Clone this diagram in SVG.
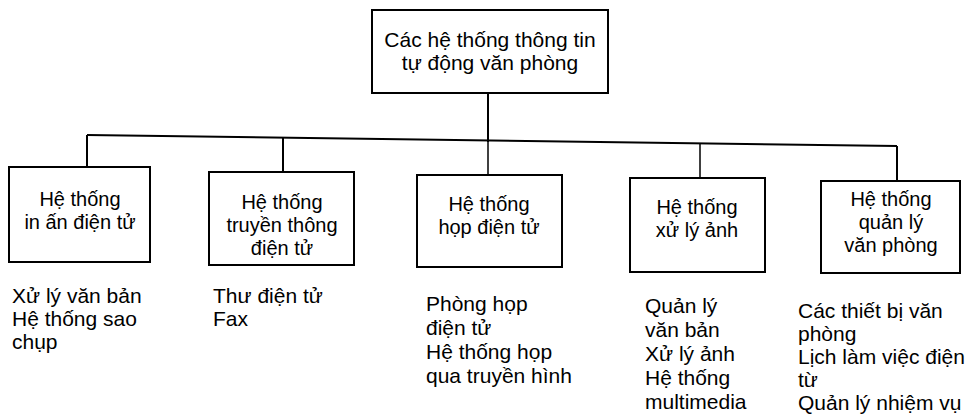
<svg xmlns="http://www.w3.org/2000/svg" width="979" height="419" viewBox="0 0 979 419">
<style>
.box{fill:#fff;stroke:#000;stroke-width:2}
.ln{stroke:#000;stroke-width:2;fill:none}
.thin{stroke:#000;stroke-width:1.5;fill:none}
text{font-family:"Liberation Sans",Arial,sans-serif;fill:#000}
.t{font-size:21px;text-anchor:middle}
.b{font-size:20px;text-anchor:middle}
.l{font-size:21px}
</style>
<rect width="979" height="419" fill="#fff"/>
<g id="connectors">
<line class="ln" x1="87" y1="135" x2="897" y2="146"/>
<line class="ln" x1="488" y1="93" x2="488" y2="142"/>
<line class="thin" x1="488" y1="142" x2="488" y2="175"/>
<line class="ln" x1="87" y1="135" x2="87" y2="167"/>
<line class="ln" x1="283" y1="137.5" x2="283" y2="172"/>
<line class="thin" x1="700" y1="143.3" x2="700" y2="178"/>
<line class="ln" x1="897" y1="146" x2="897" y2="181"/>
</g>
<g id="root">
<rect class="box" x="372" y="10" width="236" height="83"/>
<text class="t" x="490" y="47">Các hệ thống thông tin</text>
<text class="t" x="490" y="70">tự động văn phòng</text>
</g>
<g id="n1">
<rect class="box" x="9" y="167" width="141" height="95"/>
<text class="b" x="80" y="206">Hệ thống</text>
<text class="b" x="80" y="229">in ấn điện tử</text>
</g>
<g id="n2">
<rect class="box" x="209" y="172" width="145" height="93"/>
<text class="b" x="282" y="209">Hệ thống</text>
<text class="b" x="282" y="232">truyền thông</text>
<text class="b" x="282" y="255">điện tử</text>
</g>
<g id="n3">
<rect class="box" x="417" y="175" width="145" height="92"/>
<text class="b" x="489" y="211">Hệ thống</text>
<text class="b" x="489" y="234">họp điện tử</text>
</g>
<g id="n4">
<rect class="box" x="630" y="178" width="135" height="94"/>
<text class="b" x="697" y="214">Hệ thống</text>
<text class="b" x="697" y="237">xử lý ảnh</text>
</g>
<g id="n5">
<rect class="box" x="821" y="181" width="139" height="92"/>
<text class="b" x="891" y="206">Hệ thống</text>
<text class="b" x="891" y="229">quản lý</text>
<text class="b" x="891" y="252">văn phòng</text>
</g>
<g id="list1">
<text class="l" x="12" y="303">Xử lý văn bản</text>
<text class="l" x="12" y="326">Hệ thống sao</text>
<text class="l" x="12" y="349">chụp</text>
</g>
<g id="list2">
<text class="l" x="213" y="303">Thư điện tử</text>
<text class="l" x="213" y="326">Fax</text>
</g>
<g id="list3">
<text class="l" x="426" y="311">Phòng họp</text>
<text class="l" x="426" y="335">điện tử</text>
<text class="l" x="426" y="359">Hệ thống họp</text>
<text class="l" x="426" y="383">qua truyền hình</text>
</g>
<g id="list4">
<text class="l" x="645" y="313">Quản lý</text>
<text class="l" x="645" y="337">văn bản</text>
<text class="l" x="645" y="361">Xử lý ảnh</text>
<text class="l" x="645" y="385">Hệ thống</text>
<text class="l" x="645" y="409">multimedia</text>
</g>
<g id="list5">
<text class="l" x="798" y="318">Các thiết bị văn</text>
<text class="l" x="798" y="341">phòng</text>
<text class="l" x="798" y="364">Lịch làm việc điện</text>
<text class="l" x="798" y="387">từ</text>
<text class="l" x="798" y="410">Quản lý nhiệm vụ</text>
</g>
</svg>
